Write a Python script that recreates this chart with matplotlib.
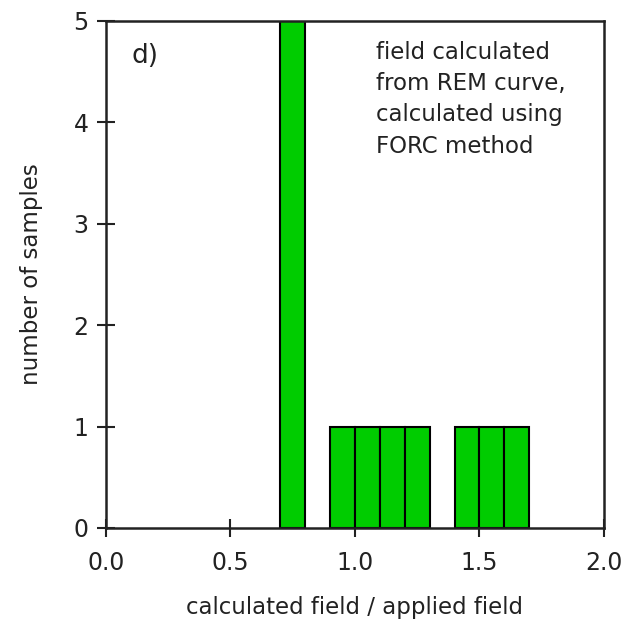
import numpy as np
import matplotlib.pyplot as plt

# histogram bins (left edge) and counts
bin_left = [0.7, 0.9, 1.0, 1.1, 1.2, 1.4, 1.5, 1.6]
counts = [5, 1, 1, 1, 1, 1, 1, 1]
bin_width = 0.1

xticks = [0.0, 0.5, 1.0, 1.5, 2.0]
yticks = [0, 1, 2, 3, 4, 5]

fig = plt.figure(figsize=(6.26, 6.21), dpi=100)
ax = fig.add_axes([0.1693, 0.1498, 0.7955, 0.8164])

ax.bar(bin_left, counts, width=bin_width, align='edge',
       color='#00cc00', edgecolor='black', linewidth=1.5, zorder=2)

ax.set_xlim(0, 2)
ax.set_ylim(0, 5)
ax.set_xticks(xticks)
ax.set_xticklabels(["%.1f" % t for t in xticks])
ax.set_yticks(yticks)
ax.tick_params(direction='inout', length=13, width=1.5, labelsize=17,
               colors='#222222')
ax.tick_params(axis='x', pad=10)
ax.tick_params(axis='y', pad=6)
for s in ax.spines.values():
    s.set_linewidth(1.8)
    s.set_color('#222222')

ax.set_xlabel("calculated field / applied field", fontsize=16.5, color='#222222', labelpad=15)
ax.set_ylabel("number of samples", fontsize=16.5, color='#222222', labelpad=22)

ax.text(0.052, 0.957, "d)", transform=ax.transAxes, fontsize=19,
        va='top', ha='left', color='#222222')
ax.text(0.543, 0.96, "field calculated\nfrom REM curve,\ncalculated using\nFORC method",
        transform=ax.transAxes, fontsize=16.5, va='top', ha='left',
        linespacing=1.45, color='#222222')

fig.savefig("out.png", dpi=100)
